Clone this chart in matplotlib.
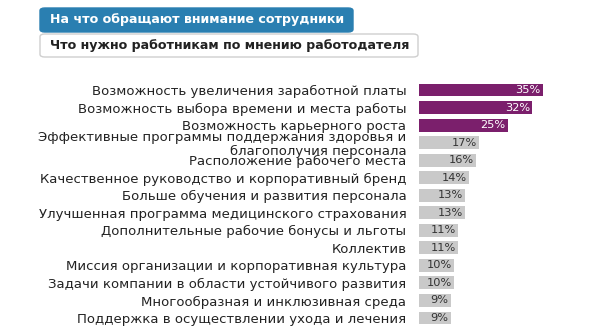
import matplotlib
matplotlib.use("Agg")
import matplotlib.pyplot as plt
from matplotlib.patches import FancyBboxPatch

categories = [
    "Возможность увеличения заработной платы",
    "Возможность выбора времени и места работы",
    "Возможность карьерного роста",
    "Эффективные программы поддержания здоровья и\nблагополучия персонала",
    "Расположение рабочего места",
    "Качественное руководство и корпоративный бренд",
    "Больше обучения и развития персонала",
    "Улучшенная программа медицинского страхования",
    "Дополнительные рабочие бонусы и льготы",
    "Коллектив",
    "Миссия организации и корпоративная культура",
    "Задачи компании в области устойчивого развития",
    "Многообразная и инклюзивная среда",
    "Поддержка в осуществлении ухода и лечения",
]
values = [35, 32, 25, 17, 16, 14, 13, 13, 11, 11, 10, 10, 9, 9]
highlight = [True, True, True] + [False] * 11
title_active = "На что обращают внимание сотрудники"
title_inactive = "Что нужно работникам по мнению работодателя"

PURPLE = "#7b1f6c"
GRAY = "#c9c9c9"
W, H = 603, 334
fig = plt.figure(figsize=(W / 100, H / 100), dpi=100)
fig.patch.set_facecolor("white")

# axes in pixel coords
x0, x1 = 419, 603
ytop, ybot = 80, 328
ax = fig.add_axes([x0 / W, 1 - ybot / H, (x1 - x0) / W, (ybot - ytop) / H])
px_per_pct = 3.54
ax.set_xlim(0, (x1 - x0) / px_per_pct)
sp = (318 - 90) / 13
ax.set_ylim(13 + 10 / sp, -10 / sp)

ypos = list(range(len(values)))
colors = [PURPLE if h else GRAY for h in highlight]
ax.barh(ypos, values, height=0.74, color=colors)
for y, v, h in zip(ypos, values, highlight):
    ax.text(v - 0.6, y, f"{v}%", ha="right", va="center",
            fontsize=8.2, color="white" if h else "#333333")

ax.set_yticks(ypos)
ax.set_yticklabels(categories, fontsize=9.5, color="#222222", linespacing=1.1)
ax.tick_params(axis="y", length=0, pad=9)
ax.set_xticks([])
for s in ax.spines.values():
    s.set_visible(False)

# buttons
def button(xa, ya, xb, yb, face, edge, text, tcolor):
    p = FancyBboxPatch((xa / W, 1 - yb / H), (xb - xa) / W, (yb - ya) / H,
                       boxstyle="round,pad=0,rounding_size=0.008",
                       transform=fig.transFigure, facecolor=face,
                       edgecolor=edge, linewidth=1.0)
    fig.patches.append(p)
    fig.text((xa + 10) / W, 1 - (ya + yb) / 2 / H, text, ha="left", va="center",
             fontsize=9.1, fontweight="bold", color=tcolor)

button(40, 8, 353, 32, "#2a7fb1", "#2a7fb1", title_active, "white")
button(40, 34, 418, 57, "white", "#cfcfcf", title_inactive, "#222222")

fig.savefig("out.png", dpi=100)
